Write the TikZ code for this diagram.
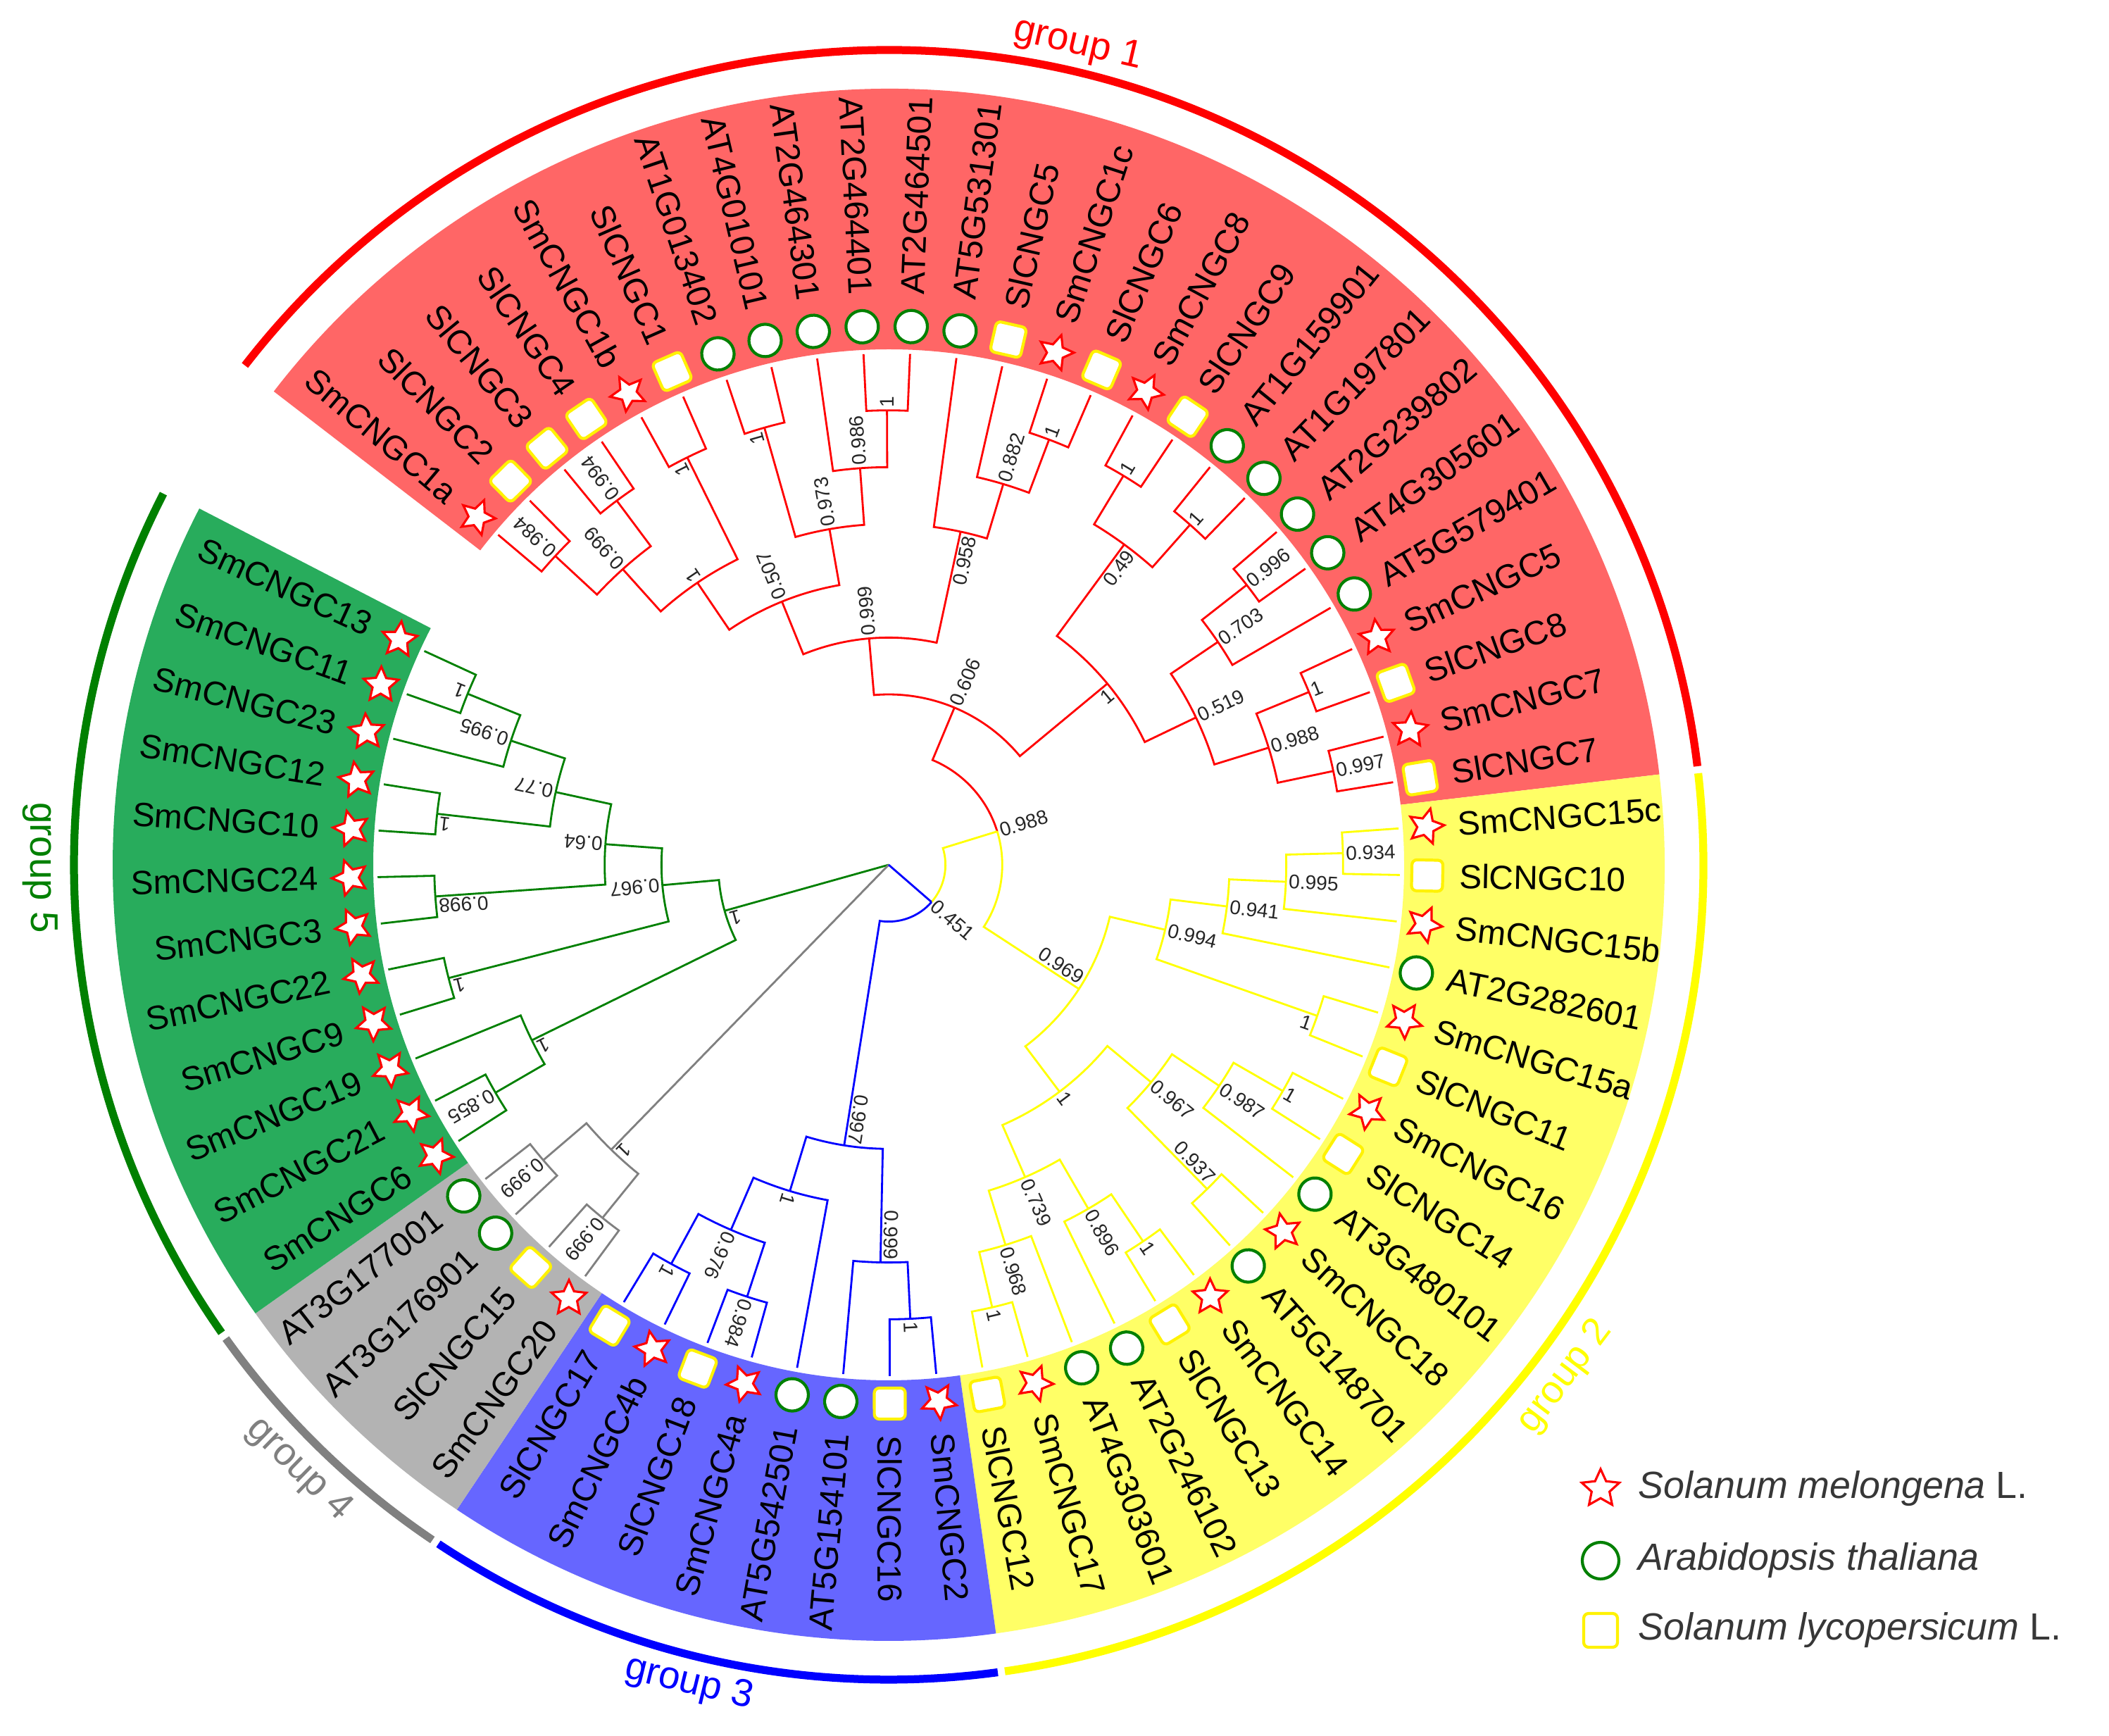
\documentclass[tikz,border=0pt]{standalone}
\usepackage{fontspec}
\setmainfont{Liberation Sans}
\usetikzlibrary{shapes.geometric}

\definecolor{bandred}{RGB}{255,102,102}
\definecolor{bandyellow}{RGB}{255,255,102}
\definecolor{bandblue}{RGB}{102,102,255}
\definecolor{bandgrey}{RGB}{179,179,179}
\definecolor{bandgreen}{RGB}{40,172,92}
\definecolor{treered}{RGB}{255,0,0}
\definecolor{treeyellow}{RGB}{255,255,0}
\definecolor{treeblue}{RGB}{0,0,255}
\definecolor{treegrey}{RGB}{128,128,128}
\definecolor{treegreen}{RGB}{0,128,0}
\definecolor{legtext}{RGB}{55,55,55}

\tikzset{
  br1/.style={draw=treered, line width=0.8pt},
  br2/.style={draw=treeyellow, line width=0.8pt},
  br3/.style={draw=treeblue, line width=0.8pt},
  br4/.style={draw=treegrey, line width=0.8pt},
  br5/.style={draw=treegreen, line width=0.8pt},
  lf/.style={font=\fontsize{13.6}{15}\selectfont, inner sep=0pt},
  bs/.style={font=\fontsize{8}{9}\selectfont, inner sep=1pt, text=black!85},
  bso/.style={anchor=west},
  bsc/.style={anchor=south east},
  bsw/.style={anchor=north east},
  smstar/.style={star, star points=5, star point ratio=2.1, draw=red, fill=white,
    line width=0.9pt, minimum size=0.52cm, inner sep=0pt, shape border rotate=-90},
  atcirc/.style={circle, draw=treegreen, fill=white, line width=1.2pt,
    minimum size=0.46cm, inner sep=0pt},
  slsq/.style={rectangle, rounded corners=0.07cm, draw=yellow, fill=white,
    line width=1.2pt, minimum size=0.44cm, inner sep=0pt},
  ring/.style={line width=3.2pt},
  grp/.style={font=\fontsize{15.6}{17}\selectfont, inner sep=0pt},
  lgtxt/.style={font=\fontsize{15.3}{17}\selectfont, text=legtext, inner sep=0pt, anchor=west}
}

\newcommand\tipR{7.26}
\newcommand\lvlR{0.8067}

% arc of a clade from its node round to one child, then in to that child
\newcommand\twig[3]{%
  \draw[#1] (#2) arc[start angle=\csname ta#2\endcsname,
    end angle=\csname ta#3\endcsname, radius=\csname tr#2\endcsname] -- (#3);}

% name, level, child A, style A, child B, style B, support, side of label
\newcommand\clade[8]{%
  \pgfmathsetmacro\clA{(\csname ta#3\endcsname+\csname ta#5\endcsname)/2}%
  \pgfmathsetmacro\clR{\tipR-\lvlR*#2}%
  \coordinate (#1) at (\clA:\clR);%
  \expandafter\xdef\csname ta#1\endcsname{\clA}%
  \expandafter\xdef\csname tr#1\endcsname{\clR}%
  \twig{#4}{#1}{#3}\twig{#6}{#1}{#5}%
  \node[bs, bs#8, rotate=\clA] (b#1) at (#1) {#7};}

\newcommand\grpband[3]{%
  \fill[#1] (#2:7.32) arc[start angle=#2, end angle=#3, radius=7.32]
    -- (#3:11.02) arc[start angle=#3, end angle=#2, radius=11.02] -- cycle;}

\begin{document}
\begin{tikzpicture}
\fill[white] (-12.62,-12.37) rectangle (17.33,12.28);
\useasboundingbox (-12.62,-12.37) rectangle (17.33,12.28);

% coloured bands
\grpband{bandred}{142.41}{6.69}
\grpband{bandyellow}{6.69}{-82.05}
\grpband{bandblue}{-82.05}{-123.81}
\grpband{bandgrey}{-123.81}{-144.69}
\grpband{bandgreen}{-144.69}{-207.33}

% outer ring and group names
\foreach \a/\b/\c in {142.2/6.95/treered, 6.45/-81.8/treeyellow,
  -82.3/-123.55/treeblue, -124.05/-144.45/treegrey, -144.95/-207.1/treegreen}
  \draw[ring, draw=\c] (\a:11.57) arc[start angle=\a, end angle=\b, radius=11.57];
\node[grp, text=treered, rotate=-13] (gl1) at (77:11.95) {group 1};
\node[grp, text=treeyellow, rotate=52.9] (gl2) at (-37.1:12.05) {group 2};
\node[grp, text=treeblue, rotate=-13.7] (gl3) at (-103.7:11.97) {group 3};
\node[grp, text=treegrey, rotate=-44.3] (gl4) at (-134.3:12.0) {group 4};
\node[grp, text=treegreen, rotate=-89.8] (gl5) at (180.2:12.05) {group 5};

% leaves
\foreach \nm/\sp [count=\i from 0] in {
  SmCNGC1a/smstar,SlCNGC2/slsq,SlCNGC3/slsq,SlCNGC4/slsq,SmCNGC1b/smstar,
  SlCNGC1/slsq,AT1G013402/atcirc,AT4G010101/atcirc,AT2G464301/atcirc,
  AT2G464401/atcirc,AT2G464501/atcirc,AT5G531301/atcirc,SlCNGC5/slsq,
  SmCNGC1c/smstar,SlCNGC6/slsq,SmCNGC8/smstar,SlCNGC9/slsq,
  AT1G159901/atcirc,AT1G197801/atcirc,AT2G239802/atcirc,AT4G305601/atcirc,
  AT5G579401/atcirc,SmCNGC5/smstar,SlCNGC8/slsq,SmCNGC7/smstar,SlCNGC7/slsq,
  SmCNGC15c/smstar,SlCNGC10/slsq,SmCNGC15b/smstar,AT2G282601/atcirc,
  SmCNGC15a/smstar,SlCNGC11/slsq,SmCNGC16/smstar,SlCNGC14/slsq,
  AT3G480101/atcirc,SmCNGC18/smstar,AT5G148701/atcirc,SmCNGC14/smstar,
  SlCNGC13/slsq,AT2G246102/atcirc,AT4G303601/atcirc,SmCNGC17/smstar,
  SlCNGC12/slsq,
  SmCNGC2/smstar,SlCNGC16/slsq,AT5G154101/atcirc,AT5G542501/atcirc,
  SmCNGC4a/smstar,SlCNGC18/slsq,SmCNGC4b/smstar,SlCNGC17/slsq,
  SmCNGC20/smstar,SlCNGC15/slsq,AT3G176901/atcirc,AT3G177001/atcirc,
  SmCNGC6/smstar,SmCNGC21/smstar,SmCNGC19/smstar,SmCNGC9/smstar,
  SmCNGC22/smstar,SmCNGC3/smstar,SmCNGC24/smstar,SmCNGC10/smstar,
  SmCNGC12/smstar,SmCNGC23/smstar,SmCNGC11/smstar,SmCNGC13/smstar}
{
  \pgfmathsetmacro\ang{139.8-5.22*\i}
  \coordinate (t\i) at (\ang:\tipR);
  \expandafter\xdef\csname tat\i\endcsname{\ang}
  \node[\sp, rotate=\ang] (sym\i) at (\ang:7.65) {};
  \pgfmathtruncatemacro\rs{cos(\ang)>0}
  \ifnum\rs=1
    \node[lf, anchor=west, rotate=\ang] (lab\i) at (\ang:8.10) {\nm};
  \else
    \node[lf, anchor=east, rotate=\ang+180] (lab\i) at (\ang:8.10) {\nm};
  \fi
}

% group 1
\clade{a1}{1}{t0}{br1}{t1}{br1}{0.984}{o}
\clade{b1}{1}{t2}{br1}{t3}{br1}{0.994}{o}
\clade{c1}{2}{a1}{br1}{b1}{br1}{0.999}{o}
\clade{d1}{1}{t4}{br1}{t5}{br1}{1}{c}
\clade{e1}{3}{c1}{br1}{d1}{br1}{1}{o}
\clade{f1}{1}{t6}{br1}{t7}{br1}{1}{c}
\clade{h1}{1}{t9}{br1}{t10}{br1}{1}{o}
\clade{g1}{2}{t8}{br1}{h1}{br1}{0.986}{o}
\clade{i1}{3}{f1}{br1}{g1}{br1}{0.973}{o}
\clade{j1}{4}{e1}{br1}{i1}{br1}{0.507}{o}
\clade{m1}{1}{t13}{br1}{t14}{br1}{1}{o}
\clade{n1}{2}{t12}{br1}{m1}{br1}{0.882}{o}
\clade{o1}{3}{t11}{br1}{n1}{br1}{0.958}{w}
\clade{k1}{5}{j1}{br1}{o1}{br1}{0.999}{o}
\clade{p1}{1}{t15}{br1}{t16}{br1}{1}{o}
\clade{q1}{1}{t17}{br1}{t18}{br1}{1}{o}
\clade{r1}{2}{p1}{br1}{q1}{br1}{0.49}{w}
\clade{s1}{1}{t19}{br1}{t20}{br1}{0.996}{o}
\clade{u1}{2}{s1}{br1}{t21}{br1}{0.703}{o}
\clade{v1}{1}{t22}{br1}{t23}{br1}{1}{o}
\clade{w1}{1}{t24}{br1}{t25}{br1}{0.997}{o}
\clade{x1}{2}{v1}{br1}{w1}{br1}{0.988}{o}
\clade{y1}{3}{u1}{br1}{x1}{br1}{0.519}{o}
\clade{z1}{4}{r1}{br1}{y1}{br1}{1}{w}
\clade{top1}{6}{k1}{br1}{z1}{br1}{0.606}{o}
% group 2
\clade{a2}{1}{t26}{br2}{t27}{br2}{0.934}{o}
\clade{b2}{2}{a2}{br2}{t28}{br2}{0.995}{o}
\clade{c2}{3}{b2}{br2}{t29}{br2}{0.941}{o}
\clade{d2}{1}{t30}{br2}{t31}{br2}{1}{w}
\clade{e2}{4}{c2}{br2}{d2}{br2}{0.994}{o}
\clade{f2}{1}{t32}{br2}{t33}{br2}{1}{o}
\clade{g2}{2}{f2}{br2}{t34}{br2}{0.987}{o}
\clade{h2}{1}{t35}{br2}{t36}{br2}{0.937}{c}
\clade{i2}{3}{g2}{br2}{h2}{br2}{0.967}{o}
\clade{j2}{1}{t37}{br2}{t38}{br2}{1}{o}
\clade{k2}{2}{j2}{br2}{t39}{br2}{0.896}{o}
\clade{l2}{1}{t41}{br2}{t42}{br2}{1}{o}
\clade{m2}{2}{t40}{br2}{l2}{br2}{0.968}{o}
\clade{n2}{3}{k2}{br2}{m2}{br2}{0.739}{o}
\clade{o2}{4}{i2}{br2}{n2}{br2}{1}{o}
\clade{top2}{5}{e2}{br2}{o2}{br2}{0.969}{c}
\clade{g12}{7}{top1}{br1}{top2}{br2}{0.988}{o}
% group 3
\clade{a3}{1}{t43}{br3}{t44}{br3}{1}{o}
\clade{b3}{2}{a3}{br3}{t45}{br3}{0.999}{c}
\clade{c3}{1}{t47}{br3}{t48}{br3}{0.984}{o}
\clade{d3}{1}{t49}{br3}{t50}{br3}{1}{o}
\clade{e3}{2}{c3}{br3}{d3}{br3}{0.976}{o}
\clade{f3}{3}{t46}{br3}{e3}{br3}{1}{o}
\clade{top3}{4}{b3}{br3}{f3}{br3}{0.997}{c}
\clade{g123}{8}{g12}{br2}{top3}{br3}{0.451}{o}
% group 4
\clade{a4}{1}{t51}{br4}{t52}{br4}{0.999}{o}
\clade{b4}{1}{t53}{br4}{t54}{br4}{0.999}{o}
\clade{top4}{2}{a4}{br4}{b4}{br4}{1}{c}
% group 5
\clade{a5}{1}{t55}{br5}{t56}{br5}{0.855}{o}
\clade{b5}{2}{t57}{br5}{a5}{br5}{1}{c}
\clade{c5}{1}{t58}{br5}{t59}{br5}{1}{c}
\clade{d5}{1}{t60}{br5}{t61}{br5}{0.998}{c}
\clade{e5}{1}{t62}{br5}{t63}{br5}{1}{c}
\clade{f5}{1}{t65}{br5}{t66}{br5}{1}{o}
\clade{g5}{2}{t64}{br5}{f5}{br5}{0.995}{o}
\clade{h5}{3}{e5}{br5}{g5}{br5}{0.77}{o}
\clade{i5}{4}{d5}{br5}{h5}{br5}{0.64}{o}
\clade{j5}{5}{c5}{br5}{i5}{br5}{0.967}{o}
\clade{top5}{6}{b5}{br5}{j5}{br5}{1}{c}

% root
\coordinate (root) at (0,0);
\draw[br5] (root) -- (top5);
\draw[br4] (root) -- (top4);
\draw[br3] (root) -- (g123);

% legend
\node[smstar, shape border rotate=0, minimum size=0.56cm] (lg1) at (10.11,-8.86) {};
\node[atcirc, minimum size=0.52cm] (lg2) at (10.11,-9.88) {};
\node[slsq, minimum size=0.48cm] (lg3) at (10.11,-10.87) {};
\node[lgtxt] (lt1) at (10.64,-8.86) {\textit{Solanum melongena} L.};
\node[lgtxt] (lt2) at (10.64,-9.88) {\textit{Arabidopsis thaliana}};
\node[lgtxt] (lt3) at (10.64,-10.87) {\textit{Solanum lycopersicum} L.};
\end{tikzpicture}
\end{document}
